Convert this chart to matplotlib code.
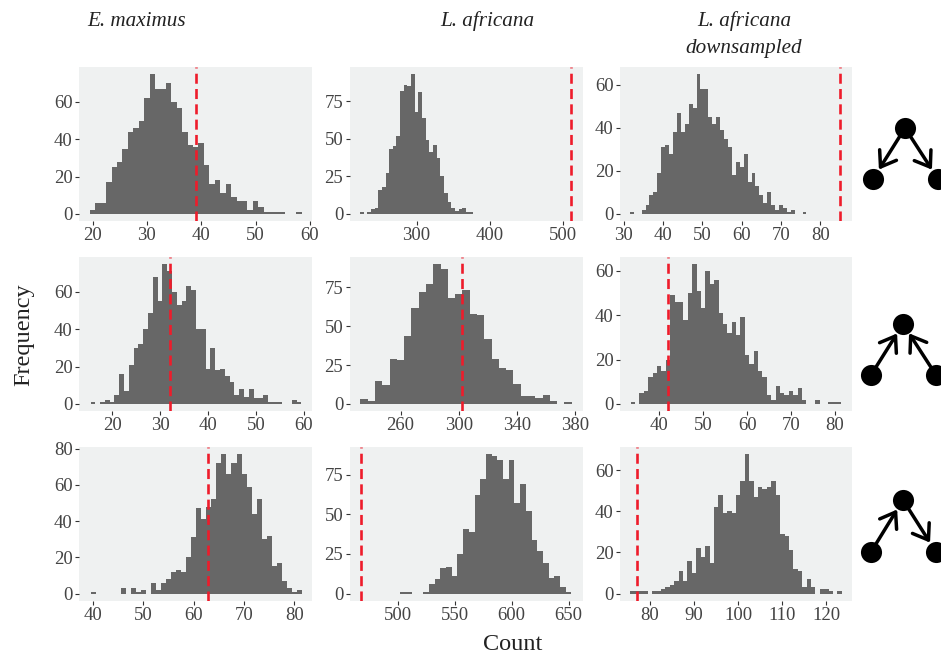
import matplotlib
matplotlib.use('Agg')
import matplotlib.pyplot as plt
import numpy as np

W, H = 941, 655
plt.rcParams['font.family'] = ['Liberation Serif', 'DejaVu Serif']

# counts per bin, first value is the centre of the first bin
emax_a_start, emax_a = 20, [2, 6, 6, 17, 25, 28, 35, 44, 46, 50, 62, 75, 67, 67, 70, 60, 57, 44, 37, 36, 38, 26, 16, 18, 11, 16, 9, 7, 7, 2, 7, 4, 1, 1, 1, 1, 0, 0, 1]
laf_a_start, laf_a = 225, [1, 0, 1, 3, 4, 16, 18, 27, 43, 45, 52, 82, 86, 85, 93, 68, 81, 64, 49, 41, 46, 37, 25, 14, 8, 4, 2, 3, 4, 1, 1]
lds_a_start, lds_a = 32, [1, 0, 0, 2, 4, 9, 10, 19, 31, 32, 28, 38, 47, 38, 42, 51, 49, 65, 58, 58, 45, 42, 45, 39, 35, 31, 18, 24, 22, 28, 15, 19, 13, 9, 5, 10, 4, 2, 4, 3, 1, 2, 0, 0, 1]

emax_b_start, emax_b = 16, [1, 0, 1, 2, 1, 5, 16, 7, 21, 30, 32, 40, 49, 68, 55, 75, 71, 60, 53, 55, 63, 61, 40, 40, 19, 30, 18, 19, 15, 12, 5, 8, 4, 8, 3, 3, 5, 1, 1, 1, 0, 0, 2, 1]
laf_b_start, laf_b = 235, [3, 2, 15, 12, 29, 28, 44, 62, 72, 77, 90, 87, 68, 71, 73, 58, 57, 42, 29, 23, 22, 13, 5, 5, 4, 6, 2, 0, 1]
lds_b_start, lds_b = 34, [1, 0, 5, 6, 12, 14, 17, 15, 20, 49, 46, 46, 38, 50, 63, 51, 43, 60, 54, 56, 41, 36, 32, 37, 31, 39, 22, 18, 24, 15, 12, 4, 2, 8, 5, 4, 6, 4, 7, 2, 0, 0, 2, 0, 0, 1, 1, 1]

emax_c_start, emax_c = 40, [1, 0, 0, 0, 0, 0, 3, 0, 3, 1, 2, 0, 6, 2, 6, 8, 12, 13, 12, 20, 31, 47, 41, 48, 52, 72, 77, 66, 72, 77, 66, 59, 44, 52, 30, 32, 15, 17, 7, 3, 1, 2]
laf_c_start, laf_c = 505, [1, 1, 0, 0, 1, 6, 9, 16, 17, 11, 25, 41, 39, 62, 72, 88, 87, 84, 72, 84, 57, 69, 52, 34, 27, 19, 10, 11, 4, 1]
lds_c_start, lds_c = 76, [1, 1, 1, 1, 0, 1, 1, 2, 3, 4, 6, 11, 6, 16, 10, 22, 18, 23, 15, 42, 48, 39, 40, 39, 48, 55, 68, 55, 47, 52, 51, 52, 55, 48, 29, 28, 21, 12, 11, 3, 7, 3, 0, 2, 2, 1, 0, 1]

panels = [
    [(emax_a_start, emax_a, 1), (laf_a_start, laf_a, 5), (lds_a_start, lds_a, 1)],
    [(emax_b_start, emax_b, 1), (laf_b_start, laf_b, 5), (lds_b_start, lds_b, 1)],
    [(emax_c_start, emax_c, 1), (laf_c_start, laf_c, 5), (lds_c_start, lds_c, 1)],
]
observed = [[39, 511.5, 85], [32, 302, 42], [62.75, 468, 77]]
xlims = [
    [(17.5, 60.4), (208.2, 527.8), (29, 88.1)],
    [(13.1, 61.7), (225, 385.2), (31.06, 83.9)],
    [(37.2, 83.5), (457.9, 662.6), (73.2, 125.8)],
]
xticks = [
    [[20, 30, 40, 50, 60], [300, 400, 500], [30, 40, 50, 60, 70, 80]],
    [[20, 30, 40, 50, 60], [260, 300, 340, 380], [40, 50, 60, 70, 80]],
    [[40, 50, 60, 70, 80], [500, 550, 600, 650], [80, 90, 100, 110, 120]],
]
yticks = [
    [[0, 20, 40, 60], [0, 25, 50, 75], [0, 20, 40, 60]],
    [[0, 20, 40, 60], [0, 25, 50, 75], [0, 20, 40, 60]],
    [[0, 20, 40, 60, 80], [0, 25, 50, 75], [0, 20, 40, 60]],
]

col_px = [(79, 312), (349.5, 583), (620, 852)]
row_px = [(67, 221), (257, 411), (447, 600.5)]

fig = plt.figure(figsize=(W / 100, H / 100), dpi=100, facecolor='white')

for r in range(3):
    for c in range(3):
        x0, x1 = col_px[c]
        y0, y1 = row_px[r]
        ax = fig.add_axes([x0 / W, 1 - y1 / H, (x1 - x0) / W, (y1 - y0) / H])
        ax.set_facecolor('#eff1f1')
        start, counts, binw = panels[r][c]
        edges = start - binw / 2 + binw * np.arange(len(counts) + 1)
        # stairs instead of bar, no white seams between the bins
        ax.stairs(counts, edges, fill=True, color='#676767', linewidth=0)
        ax.axvline(observed[r][c], color='#ee1c2b', lw=1.9, linestyle=(0, (3.8, 2.0)))
        ax.set_xlim(xlims[r][c])
        top = max(counts)
        ax.set_ylim(-0.05 * top, 1.05 * top)
        ax.set_xticks(xticks[r][c])
        ax.set_yticks(yticks[r][c])
        ax.tick_params(length=3, width=0.8, color='#333333', labelcolor='#444444', labelsize=13.5, pad=1.5)
        for s in ax.spines.values():
            s.set_visible(False)

title_kw = dict(style='italic', fontsize=15.2, color='#222222', ha='center', va='center')
fig.text(137 / W, 1 - 21.5 / H, 'E. maximus', **title_kw)
fig.text(487 / W, 1 - 21.5 / H, 'L. africana', **title_kw)
fig.text(744 / W, 1 - 21.5 / H, 'L. africana', **title_kw)
fig.text(744 / W, 1 - 48.5 / H, 'downsampled', **title_kw)
fig.text(513 / W, 1 - 645 / H, 'Count', fontsize=17.5, color='#222222', ha='center', va='center')
fig.text(24 / W, 1 - 335 / H, 'Frequency', fontsize=17.5, color='#222222', rotation=90, ha='center', va='center')

# small dag icons on the right, drawn in pixel coords
net = fig.add_axes([0, 0, 1, 1], facecolor='none')
net.set_xlim(0, W)
net.set_ylim(H, 0)
net.axis('off')

def dag(top, left, right, edges):
    nodes = {'t': top, 'l': left, 'r': right}
    for a, b in edges:
        net.annotate('', xy=nodes[b], xytext=nodes[a],
                     arrowprops=dict(arrowstyle='->,head_length=0.6,head_width=0.42', lw=2.5, color='black',
                                     shrinkA=5, shrinkB=8, mutation_scale=17))
    for p in nodes.values():
        net.plot(*p, 'o', ms=15.2, color='black', mew=0)

dag((905, 128), (873, 179), (938, 179), [('t', 'l'), ('t', 'r')])
dag((903, 324), (871, 375), (936, 375), [('l', 't'), ('r', 't')])
dag((903, 500), (871, 552), (936, 552), [('l', 't'), ('t', 'r')])

fig.savefig('out.png', dpi=100)
